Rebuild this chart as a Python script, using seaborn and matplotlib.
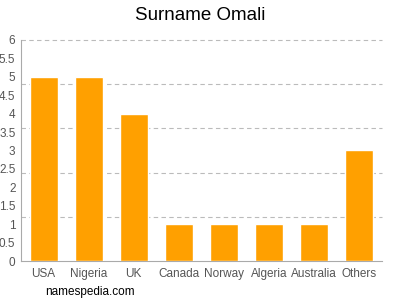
import matplotlib
matplotlib.use("Agg")
import matplotlib.pyplot as plt
import seaborn as sns
import pandas as pd

countries = ["USA", "Nigeria", "UK", "Canada", "Norway", "Algeria", "Australia", "Others"]
counts = [5, 5, 4, 1, 1, 1, 1, 3]
ytick_values = [0, 0.5, 1, 1.5, 2, 2.5, 3, 3.5, 4, 4.5, 5, 5.5, 6]
ytick_labels = ["0", "0.5", "1", "1.5", "2", "2.5", "3", "3.5", "4", "4.5", "5", "5.5", "6"]
grid_values = [1.2, 2.4, 3.6, 4.8, 6.0]

df = pd.DataFrame({"country": countries, "count": counts})

sns.set_style("white")
plt.rcParams['font.family'] = ['Liberation Sans', 'DejaVu Sans']

fig = plt.figure(figsize=(4, 3), dpi=100)
ax = fig.add_axes([0.0525, 0.13, 0.9025, 0.7367])

sns.barplot(data=df, x="country", y="count", color="#FFA000", saturation=1,
            width=0.62, ax=ax, zorder=3)

ax.set_xlim(-0.5, 7.5)
ax.set_ylim(0, 6)
ax.yaxis.remove_overlapping_locs = False
ax.set_yticks(ytick_values)
ax.set_yticklabels(ytick_labels)
ax.set_yticks(grid_values, minor=True)
ax.grid(False)
ax.grid(which="minor", axis="y", linestyle=(0, (4, 3)), color="#BBBBBB", linewidth=0.8)
ax.set_axisbelow(True)
for t in ax.yaxis.get_minor_ticks():
    t.gridline.set_clip_on(False)
ax.tick_params(axis="y", which="minor", length=0)
ax.tick_params(axis="y", which="major", length=3, color="#AAAAAA", labelsize=8.5, labelcolor="#555555", pad=1)
ax.tick_params(axis="x", which="major", length=3, color="#AAAAAA", labelsize=8.5, labelcolor="#555555", pad=2)

for s in ["top", "right"]:
    ax.spines[s].set_visible(False)
for s in ["left", "bottom"]:
    ax.spines[s].set_color("#AAAAAA")
    ax.spines[s].set_linewidth(0.8)

ax.set_xlabel("")
ax.set_ylabel("")
fig.text(0.5, 0.95, "Surname Omali", ha="center", va="center", fontsize=13.5, color="#000000")
fig.text(0.225, 0.027, "namespedia.com", ha="center", va="center", fontsize=8.5, color="#000000")

fig.savefig("out.png", dpi=100)
